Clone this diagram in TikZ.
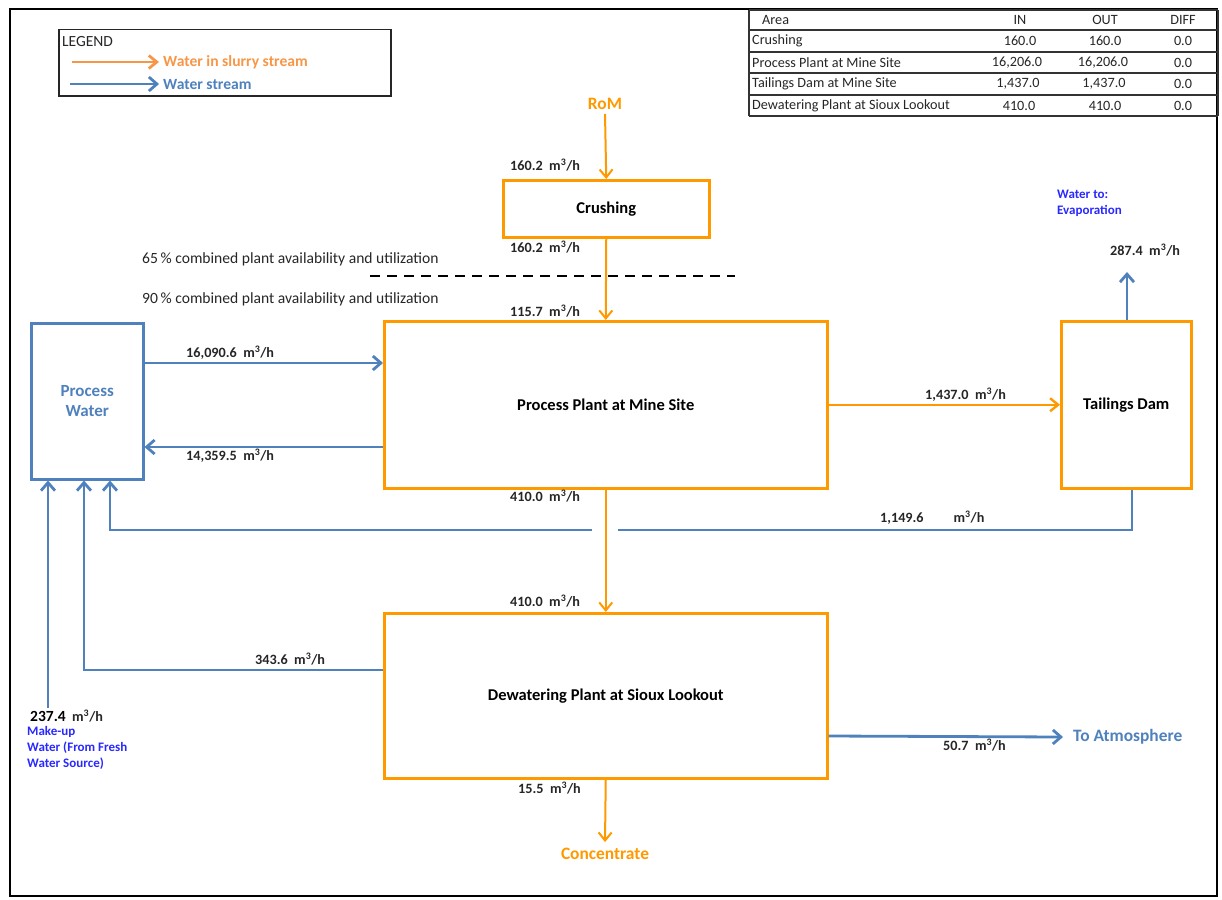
\documentclass[tikz,border=0pt]{standalone}
\usepackage{fontspec}
\setmainfont{Carlito}
\usetikzlibrary{arrows.meta,calc}
\definecolor{slurry}{RGB}{255,153,0}
\definecolor{legorange}{RGB}{247,150,70}
\definecolor{water}{RGB}{79,129,189}
\definecolor{bluetxt}{RGB}{40,40,255}
\definecolor{lbl}{RGB}{38,38,38}
\newcommand\cubmh{m\textsuperscript{3}/h}
\begin{document}
\begin{tikzpicture}[x=1pt,y=-1pt,
  box/.style={draw=slurry,line width=2.5pt,anchor=north west,inner sep=0pt,
    font=\fontsize{16.5}{18}\selectfont\bfseries,text=black},
  wbox/.style={draw=water,line width=2.5pt,anchor=north west,inner sep=0pt},
  sflow/.style={draw=slurry,line width=2pt,-{Straight Barb[length=8pt,width=13pt]}},
  sline/.style={draw=slurry,line width=2pt},
  wflow/.style={draw=water,line width=2.8pt,-{Straight Barb[length=8pt,width=14pt]}},
  wline/.style={draw=water,line width=2.8pt},
  lab/.style={font=\fontsize{14.2}{16}\selectfont\bfseries,text=lbl,inner sep=0pt,anchor=west},
  note/.style={font=\fontsize{15.6}{18}\selectfont,text=lbl,inner sep=0pt,anchor=west},
  tab/.style={font=\fontsize{14.2}{16}\selectfont,text=lbl,inner sep=0pt},
  tabline/.style={draw=black!80,line width=1.3pt},
  btxt/.style={font=\fontsize{13}{16}\selectfont\bfseries,text=bluetxt,inner sep=0pt,anchor=north west,align=left},
  stxt/.style={font=\fontsize{17.4}{19}\selectfont\bfseries,text=slurry,inner sep=0pt}
]
\useasboundingbox (0,0) rectangle (1222,899);
% outer frame
\draw[line width=1.6pt,black] (10,9) rectangle (1217,896);

% legend
\node[draw=black!85,line width=1.5pt,minimum width=332pt,minimum height=66pt,anchor=north west,inner sep=0pt] (legend) at (58,29) {};
\node[tab,anchor=west,font=\fontsize{15.5}{17}\selectfont] (legtitle) at (62,42) {LEGEND};
\node[font=\fontsize{15.6}{17}\selectfont\bfseries,text=legorange,inner sep=0pt,anchor=west] (legs) at (163,62) {Water in slurry stream};
\node[font=\fontsize{15.6}{17}\selectfont\bfseries,text=water,inner sep=0pt,anchor=west] (legw) at (163,84) {Water stream};
\coordinate (legsA) at (72,62);
\coordinate (legwA) at (70,84);
\draw[draw=legorange,line width=2.8pt,-{Straight Barb[length=8pt,width=13pt]}] (legsA) -- ($(legs.west)+(-4,0)$);
\draw[wflow] (legwA) -- ($(legw.west)+(-4,0)$);

% table
\foreach \yy in {10,30,52,73,95,116} \draw[tabline] (749,\yy) -- (1218,\yy);
\draw[tabline] (749,10) -- (749,116);
\draw[tabline] (1218,10) -- (1218,116);
\node[tab,anchor=west] (tA) at (762,20) {Area};
\node[tab] (tIN) at (1020,20) {IN};
\node[tab] (tOUT) at (1105,20) {OUT};
\node[tab] (tDIFF) at (1183,20) {DIFF};
\node[tab,anchor=west] (r1) at (752,41) {Crushing};
\node[tab] (r1a) at (1020,41) {160.0};
\node[tab] (r1b) at (1105,41) {160.0};
\node[tab] (r1c) at (1183,41) {0.0};
\node[tab,anchor=west] (r2) at (752,62.5) {Process Plant at Mine Site};
\node[tab] (r2a) at (1017,62.5) {16,206.0};
\node[tab] (r2b) at (1103,62.5) {16,206.0};
\node[tab] (r2c) at (1183,62.5) {0.0};
\node[tab,anchor=west] (r3) at (752,84) {Tailings Dam at Mine Site};
\node[tab] (r3a) at (1018,84) {1,437.0};
\node[tab] (r3b) at (1104,84) {1,437.0};
\node[tab] (r3c) at (1183,84) {0.0};
\node[tab,anchor=west] (r4) at (752,105.5) {Dewatering Plant at Sioux Lookout};
\node[tab] (r4a) at (1019,105.5) {410.0};
\node[tab] (r4b) at (1105,105.5) {410.0};
\node[tab] (r4c) at (1183,105.5) {0.0};

% boxes
\node[box,minimum width=206pt,minimum height=57pt] (crush) at (502,179) {Crushing};
\node[box,minimum width=443pt,minimum height=167pt] (pp) at (383,320) {Process Plant at Mine Site};
\node[box,minimum width=443pt,minimum height=165pt] (dw) at (383,612) {Dewatering Plant at Sioux Lookout};
\node[box,minimum width=130pt,minimum height=167pt] (td) at (1060,320) {Tailings Dam};
\node[wbox,minimum width=112pt,minimum height=156pt,font=\fontsize{17}{20}\selectfont\bfseries,text=water,align=center] (pw) at (30,322) {Process\\Water};

% terminal texts
\node[stxt] (rom) at (605,104) {RoM};
\node[stxt] (conc) at (605,854) {Concentrate};
\node[font=\fontsize{17.4}{19}\selectfont\bfseries,text=water,inner sep=0pt,anchor=west] (atm) at (1073,737) {To Atmosphere};
\node[btxt] (evapt) at (1057,190) {Water to:\\Evaporation};
\node[btxt] (makeup) at (27,726) {Make-up\\Water (From Fresh\\Water Source)};

% notes
\node[note] (n65) at (142,259) {65\,\% combined plant availability and utilization};
\node[note] (n90) at (142,299) {90\,\% combined plant availability and utilization};
\coordinate (dashL) at (370,276);
\coordinate (dashR) at (735,276);
\draw[black,line width=2.5pt,dash pattern=on 10pt off 7pt] (dashL) -- (dashR);

% coordinates for x positions
\coordinate (x48) at (48,0);
\coordinate (x84) at (84,0);
\coordinate (x110) at (110,0);
\coordinate (x1127) at (1127,0);
\coordinate (x1132) at (1132,0);
\coordinate (gapR) at (618,530);
\coordinate (gapL) at (592,530);
\coordinate (evap) at (1127,272);
\coordinate (mksrc) at (48,708);
\coordinate (concA) at ($(conc.north)+(0,-6)$);

% slurry flows
\draw[sflow] ($(rom.south)+(0,4)$) -- (crush.north);
\draw[sflow] (crush.south) -- (pp.north);
\draw[sflow] (pp.south) -- (dw.north);
\draw[sflow] (dw.south) -- (concA);
\draw[sflow,line width=2.4pt] (pp.east) -- (td.west);

% water flows
\draw[wflow] (pw.east |- 0,363) -- (pp.west |- 0,363);
\draw[wflow] (pp.west |- 0,447) -- (pw.east |- 0,447);
\draw[wflow] (td.north -| x1127) -- (evap);
\draw[wline] (td.south -| x1132) |- (gapR);
\draw[wflow] (gapL) -| (pw.south -| x110);
\draw[wflow] (dw.west |- 0,670) -| (pw.south -| x84);
\draw[wflow] (mksrc) -- (pw.south -| x48);
\draw[wflow] (dw.east |- 0,736) -- ($(atm.west)+(-10,0)$);

% flow labels
\node[lab] (l1) at (510,165) {160.2\ \ \cubmh};
\node[lab] (l2) at (510,247) {160.2\ \ \cubmh};
\node[lab] (l3) at (510,311) {115.7\ \ \cubmh};
\node[lab] (l4) at (186,353) {16,090.6\ \ \cubmh};
\node[lab] (l5) at (186,456) {14,359.5\ \ \cubmh};
\node[lab] (l6) at (925,395) {1,437.0\ \ \cubmh};
\node[lab] (l7) at (1110,250) {287.4\ \ \cubmh};
\node[lab] (l8) at (510,496) {410.0\ \ \cubmh};
\node[lab] (l9) at (880,518) {1,149.6\hspace{30pt}\cubmh};
\node[lab] (l10) at (510,601) {410.0\ \ \cubmh};
\node[lab] (l11) at (255,659) {343.6\ \ \cubmh};
\node[lab] (l12) at (30,716) {\textcolor{black}{\fontsize{15.5}{17}\selectfont 237.4}\ \ \cubmh};
\node[lab] (l13) at (943,745) {50.7\ \ \cubmh};
\node[lab] (l14) at (518,788) {15.5\ \ \cubmh};
\end{tikzpicture}
\end{document}
